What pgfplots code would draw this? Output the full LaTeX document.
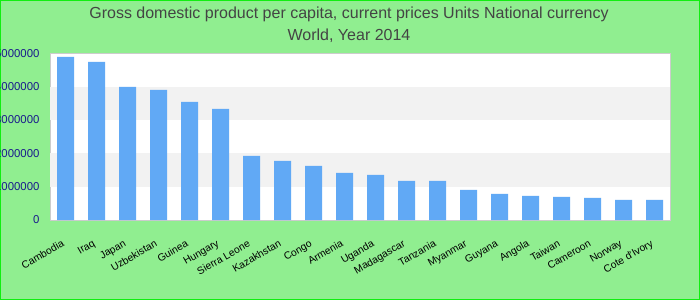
\documentclass[border=0pt]{standalone}
\usepackage{pgfplots}
\pgfplotsset{compat=1.18}
\usepackage{fontspec}
\setmainfont{Liberation Sans}
\definecolor{bgreen}{HTML}{90EE90}
\definecolor{edgegreen}{HTML}{11EE11}
\definecolor{barblue}{RGB}{97,169,245}
\definecolor{band}{HTML}{F2F2F2}
\definecolor{frame}{HTML}{CCCCCC}
\definecolor{ticknavy}{RGB}{25,25,140}
\definecolor{titlegray}{HTML}{444444}
\begin{document}
\begin{tikzpicture}
\useasboundingbox (0pt,0pt) rectangle (700pt,300pt);
\fill[bgreen] (0pt,0pt) rectangle (700pt,300pt);
\draw[edgegreen,line width=1.2pt] (0.6pt,0.6pt) rectangle (699.4pt,299.4pt);
\node[anchor=base,text=titlegray,font=\fontsize{16}{19}\selectfont,inner sep=0pt] at (349pt,281.5pt) {Gross domestic product per capita, current prices Units National currency};
\node[anchor=base,text=titlegray,font=\fontsize{16}{19}\selectfont,inner sep=0pt] at (349pt,259pt) {World, Year 2014};
\begin{axis}[
  at={(50pt,80pt)}, anchor=south west,
  width=620pt, height=166.7pt, scale only axis,
  xmin=-0.5, xmax=19.5, ymin=0, ymax=5000000,
  axis background/.style={fill=white},
  axis line style={frame,line width=1pt},
  xtick=data,
  xticklabels={Cambodia,Iraq,Japan,Uzbekistan,Guinea,Hungary,Sierra Leone,Kazakhstan,Congo,Armenia,Uganda,Madagascar,Tanzania,Myanmar,Guyana,Angola,Taiwan,Cameroon,Norway,Cote d'Ivory},
  xticklabel style={rotate=30,anchor=north east,font=\fontsize{10.3}{12}\selectfont,text=black,xshift=-10pt,yshift=-11pt},
  ytick={0,1000000,2000000,3000000,4000000,5000000},
  yticklabels={0,1000000,2000000,3000000,4000000,5000000},
  yticklabel style={font=\fontsize{11.4}{13}\selectfont,text=ticknavy,xshift=-7pt},
  major tick length=0pt,
  scaled y ticks=false,
  ybar, bar width=17pt,
  clip=false,
]
\fill[band] (axis cs:-0.5,1000000) rectangle (axis cs:19.5,2000000);
\fill[band] (axis cs:-0.5,3000000) rectangle (axis cs:19.5,4000000);
\addplot[fill=barblue,draw=none] coordinates {
(0,4890000) (1,4740000) (2,3990000) (3,3900000) (4,3540000) (5,3330000)
(6,1920000) (7,1770000) (8,1620000) (9,1410000) (10,1350000) (11,1170000)
(12,1170000) (13,900000) (14,780000) (15,720000) (16,690000) (17,660000)
(18,600000) (19,600000)};
\end{axis}
\end{tikzpicture}
\end{document}
